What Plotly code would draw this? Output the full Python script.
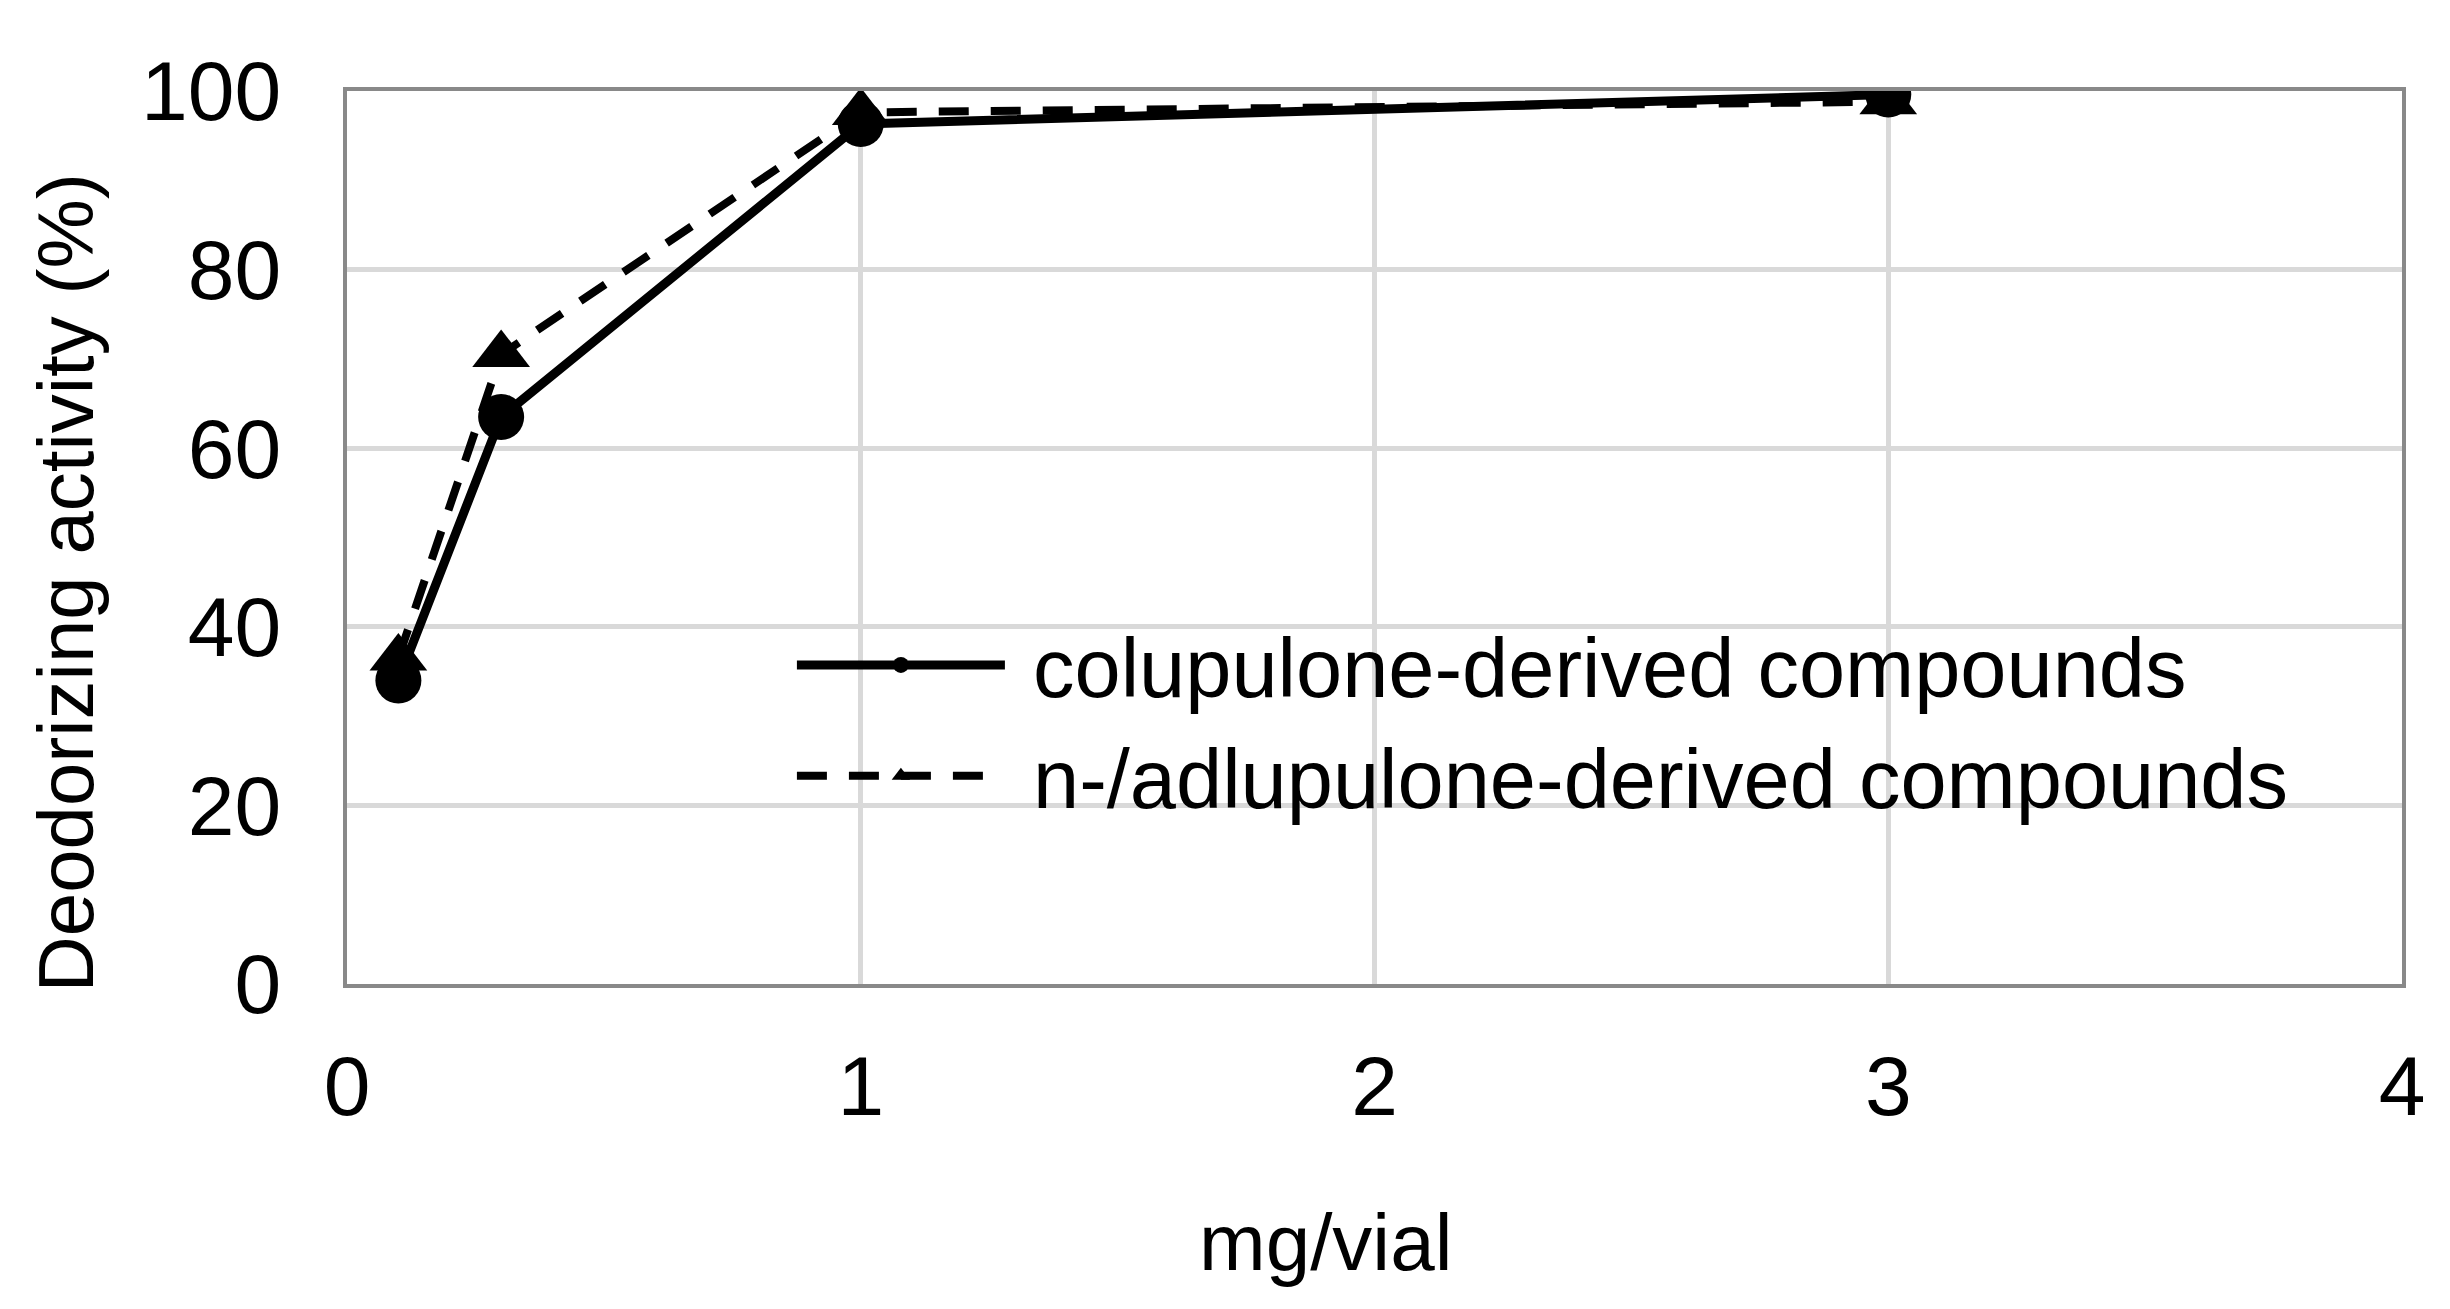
import plotly.graph_objects as go

x_mg = [0.1, 0.3, 1, 3]
colupulone = [34.0, 63.5, 96.3, 99.6]
adlupulone = [36.5, 70.5, 97.6, 98.8]
series_names = [" colupulone-derived compounds", " n-/adlupulone-derived compounds"]
x_ticks = [0, 1, 2, 3, 4]
y_ticks = [0, 20, 40, 60, 80, 100]
x_title = "mg/vial"
y_title = "Deodorizing activity (%)"

FONT = "Liberation Sans, Arial, sans-serif"

fig = go.Figure()
fig.add_trace(go.Scatter(
    x=x_mg, y=colupulone, name=series_names[0], mode="lines+markers",
    line=dict(color="black", width=9),
    marker=dict(symbol="circle", size=46, color="black"),
))
fig.add_trace(go.Scatter(
    x=x_mg, y=adlupulone, name=series_names[1], mode="lines+markers",
    line=dict(color="black", width=8, dash="30px,22px"),
    marker=dict(symbol="triangle-up", size=50, color="black"),
))

fig.update_layout(
    width=2434, height=1293,
    margin=dict(l=339, r=40, t=83, b=317),
    paper_bgcolor="white", plot_bgcolor="white",
    font=dict(family=FONT, size=84, color="black"),
    showlegend=True,
    legend=dict(
        x=0.2165, y=0.425, xanchor="left", yanchor="top",
        bgcolor="rgba(0,0,0,0)", font=dict(size=83),
        itemwidth=208, tracegroupgap=0,
    ),
    xaxis=dict(
        range=[0, 4], tickvals=x_ticks, ticktext=[str(v) for v in x_ticks],
        showgrid=True, gridcolor="#d9d9d9", gridwidth=5,
        showline=True, linecolor="#898989", linewidth=4, mirror=True,
        ticks="", zeroline=False, ticklabelstandoff=26,
    ),
    yaxis=dict(
        range=[0, 100], tickvals=y_ticks, ticktext=[str(v) for v in y_ticks],
        showgrid=True, gridcolor="#d9d9d9", gridwidth=5,
        showline=True, linecolor="#898989", linewidth=4, mirror=True,
        ticks="", zeroline=False, ticklabelstandoff=45,
    ),
    annotations=[
        dict(text=x_title, xref="paper", yref="paper", x=0.476, y=-0.289,
             xanchor="center", yanchor="middle", showarrow=False,
             font=dict(size=80)),
        dict(text=y_title, xref="paper", yref="paper", x=-0.1365, y=0.449,
             xanchor="center", yanchor="middle", showarrow=False, textangle=-90,
             font=dict(size=78)),
    ],
)

fig.write_html("out.html")
